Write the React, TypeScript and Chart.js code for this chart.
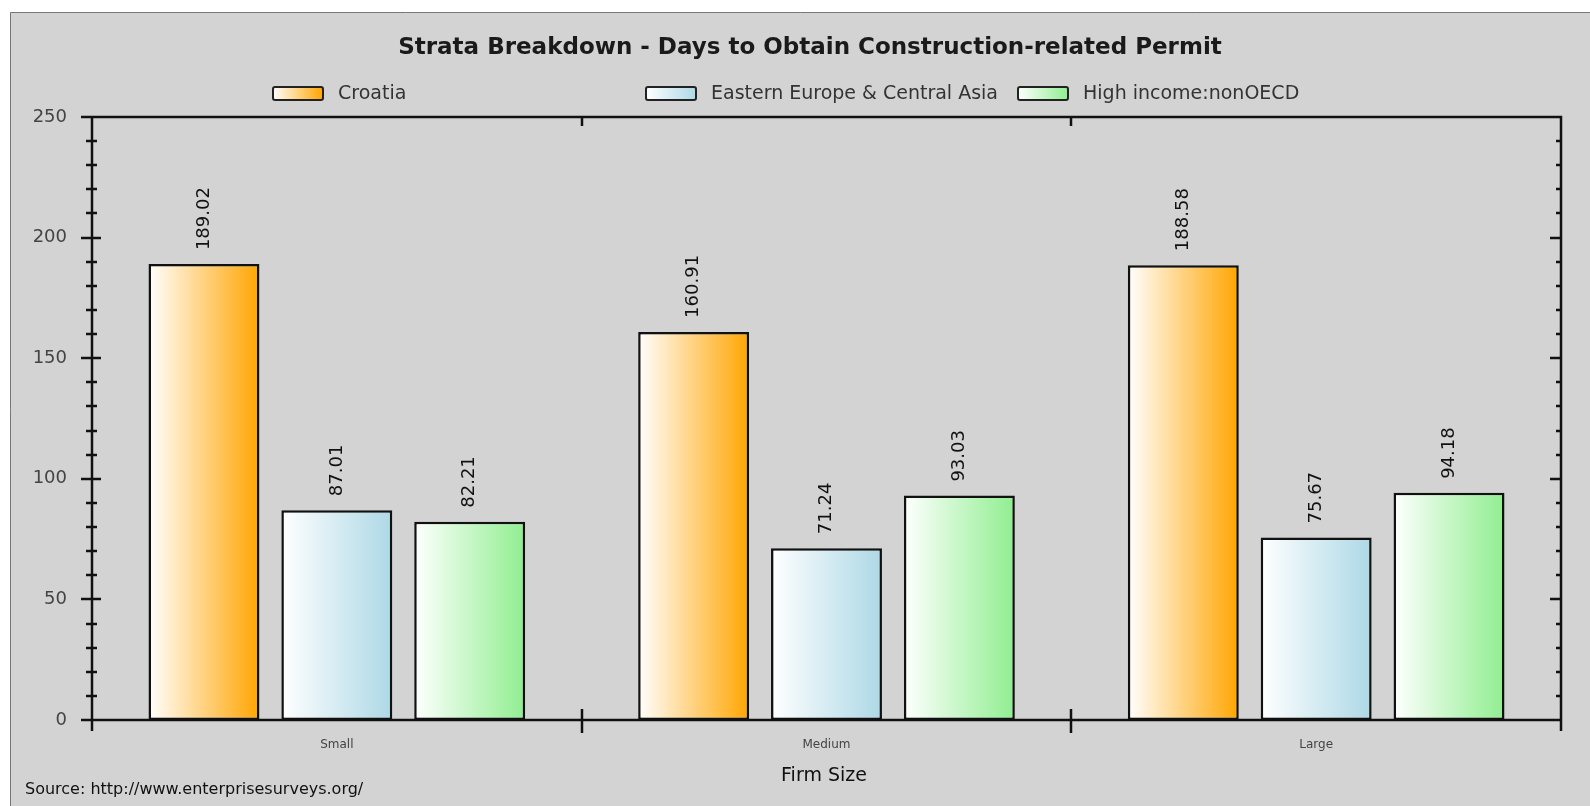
import React, { useEffect, useRef } from "react";
import { Chart, registerables } from "chart.js";

Chart.register(...registerables);

const categories = ["Small", "Medium", "Large"];
const croatia = [189.02, 160.91, 188.58];
const easternEurope = [87.01, 71.24, 75.67];
const highIncome = [82.21, 93.03, 94.18];
const seriesNames = ["Croatia", "Eastern Europe & Central Asia", "High income:nonOECD"];
const seriesColors = ["#FFA500", "#ADD8E6", "#90EE90"];
const yTicks = [0, 50, 100, 150, 200, 250];

const FONT = "'DejaVu Sans', sans-serif";

const decorPlugin = {
  id: "decor",
  beforeDraw(chart: any) {
    const ctx = chart.ctx;
    ctx.save();
    ctx.fillStyle = "#ffffff";
    ctx.fillRect(0, 0, chart.width, chart.height);
    ctx.fillStyle = "#D3D3D3";
    ctx.fillRect(10, 12, chart.width, chart.height);
    ctx.strokeStyle = "#777777";
    ctx.lineWidth = 1;
    ctx.beginPath();
    ctx.moveTo(10.5, chart.height + 2);
    ctx.lineTo(10.5, 12.5);
    ctx.lineTo(chart.width + 2, 12.5);
    ctx.stroke();

    // title
    ctx.fillStyle = "#1a1a1a";
    ctx.font = `bold 23px ${FONT}`;
    ctx.textAlign = "center";
    ctx.textBaseline = "middle";
    ctx.fillText("Strata Breakdown - Days to Obtain Construction-related Permit", 810, 48);

    // legend
    const legendX = [273, 646, 1018];
    ctx.font = `19px ${FONT}`;
    seriesNames.forEach((name, i) => {
      const x = legendX[i];
      const y = 87;
      const w = 50;
      const h = 13;
      const g = ctx.createLinearGradient(x, 0, x + w, 0);
      g.addColorStop(0, "#ffffff");
      g.addColorStop(1, seriesColors[i]);
      ctx.fillStyle = g;
      ctx.beginPath();
      ctx.roundRect(x, y, w, h, 2);
      ctx.fill();
      ctx.strokeStyle = "#222222";
      ctx.lineWidth = 2;
      ctx.stroke();
      ctx.fillStyle = "#333333";
      ctx.textAlign = "left";
      ctx.textBaseline = "middle";
      ctx.fillText(name, x + w + 15, y + h / 2 + 1);
    });

    // axis title & source
    ctx.fillStyle = "#111111";
    ctx.font = `19px ${FONT}`;
    ctx.textAlign = "center";
    ctx.fillText("Firm Size", 824, 776);
    ctx.font = `16px ${FONT}`;
    ctx.textAlign = "left";
    ctx.fillText("Source: http://www.enterprisesurveys.org/", 25, 790);
    ctx.restore();
  },
  beforeDatasetsDraw(chart: any) {
    const ctx = chart.ctx;
    chart.data.datasets.forEach((ds: any, di: number) => {
      const meta = chart.getDatasetMeta(di);
      meta.data.forEach((el: any) => {
        const left = el.x - el.width / 2;
        const g = ctx.createLinearGradient(left, 0, left + el.width, 0);
        g.addColorStop(0, "#ffffff");
        g.addColorStop(1, seriesColors[di]);
        el.options = Object.assign({}, el.options, { backgroundColor: g });
      });
    });
  },
  afterDatasetsDraw(chart: any) {
    const ctx = chart.ctx;
    ctx.save();
    ctx.font = `18px ${FONT}`;
    ctx.fillStyle = "#111111";
    ctx.textAlign = "left";
    ctx.textBaseline = "middle";
    chart.data.datasets.forEach((ds: any, di: number) => {
      const meta = chart.getDatasetMeta(di);
      meta.data.forEach((el: any, i: number) => {
        ctx.save();
        ctx.translate(el.x, el.y - 14);
        ctx.rotate(-Math.PI / 2);
        ctx.fillText(ds.data[i].toFixed(2), 0, 0);
        ctx.restore();
      });
    });

    const { left, right, top, bottom } = chart.chartArea;
    const y = chart.scales.y;
    const x = chart.scales.x;
    ctx.strokeStyle = "#111111";
    ctx.lineWidth = 2.5;
    ctx.beginPath();
    ctx.moveTo(left, bottom + 11);
    ctx.lineTo(left, top);
    ctx.lineTo(right, top);
    ctx.lineTo(right, bottom + 11);
    ctx.moveTo(left, bottom);
    ctx.lineTo(right, bottom);
    for (let v = 0; v <= 250; v += 10) {
      const py = Math.round(y.getPixelForValue(v));
      const major = v % 50 === 0;
      ctx.moveTo(left - (major ? 11 : 6), py);
      ctx.lineTo(left + (major ? 9 : 5), py);
      if (v > 0 && v < 250) {
        ctx.moveTo(right - (major ? 11 : 5), py);
        ctx.lineTo(right, py);
      }
    }
    for (let i = 0; i < categories.length - 1; i++) {
      const px = Math.round((x.getPixelForValue(i) + x.getPixelForValue(i + 1)) / 2);
      ctx.moveTo(px, bottom - 11);
      ctx.lineTo(px, bottom + 13);
      ctx.moveTo(px, top);
      ctx.lineTo(px, top + 9);
    }
    ctx.stroke();
    ctx.restore();
  },
};

export default function App() {
  const ref = useRef<HTMLCanvasElement>(null);
  useEffect(() => {
    if (!ref.current) return;
    const chart = new Chart(ref.current, {
      type: "bar",
      data: {
        labels: categories,
        datasets: [croatia, easternEurope, highIncome].map((d, i) => ({
          label: seriesNames[i],
          data: d,
          backgroundColor: seriesColors[i],
          borderColor: "#111111",
          borderWidth: 2.5,
          borderSkipped: false,
          categoryPercentage: 0.814,
          barPercentage: 0.835,
        })),
      },
      options: {
        responsive: false,
        animation: false,
        devicePixelRatio: 1,
        layout: { padding: { left: 10, top: 117, right: 29, bottom: 0 } },
        plugins: {
          legend: { display: false },
          title: { display: false },
          tooltip: { enabled: false },
        },
        scales: {
          x: {
            grid: { display: false, drawTicks: false },
            border: { display: false },
            ticks: { font: { family: FONT, size: 12 }, color: "#444444", padding: 18 },
            afterFit: (s: any) => {
              s.height = 86;
            },
          },
          y: {
            min: 0,
            max: 250,
            afterBuildTicks: (s: any) => {
              s.ticks = yTicks.map((v) => ({ value: v }));
            },
            grid: { display: false, drawTicks: false },
            border: { display: false },
            ticks: { font: { family: FONT, size: 18 }, color: "#444444", padding: 25 },
            afterFit: (s: any) => {
              s.width = 82;
            },
          },
        },
      },
      plugins: [decorPlugin],
    });
    return () => chart.destroy();
  }, []);
  return (
    <div style={{ position: "absolute", left: 0, top: 0, width: 1590, height: 806 }}>
      <canvas ref={ref} width={1590} height={806} style={{ width: 1590, height: 806, display: "block" }} />
    </div>
  );
}
